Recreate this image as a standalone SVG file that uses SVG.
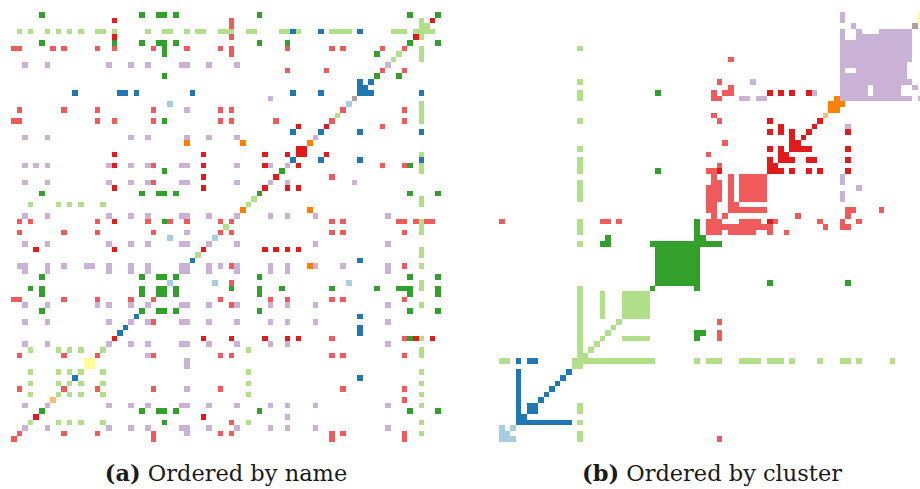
<svg xmlns="http://www.w3.org/2000/svg" xmlns:xlink="http://www.w3.org/1999/xlink" width="920" height="489" viewBox="0 0 920 489">
<style>
.lb{fill:#a6cee3}.b{fill:#1f78b4}.lg{fill:#b2df8a}.g{fill:#33a02c}.lr{fill:#ef5b5b}.r{fill:#e31a1c}
.lo{fill:#fdbf6f}.o{fill:#ff7f00}.lv{fill:#cab2d6}.y{fill:#ffff99}.br{fill:#b39e9a}
.m{shape-rendering:crispEdges}
.cap{font-family:"DejaVu Serif","Liberation Serif",serif;font-size:22.5px;fill:#1a1a1a}
</style>
<defs>
<!-- repeated row patterns of the name-ordered matrix (cell units) -->
<g id="rowGreen"><rect x="5" y="0" width="1" height="1"/><rect x="23" y="0" width="1" height="1"/><rect x="26" y="0" width="2" height="1"/><rect x="29" y="0" width="1" height="1"/><rect x="44" y="0" width="1" height="1"/><rect x="71" y="0" width="1" height="1"/><rect x="76" y="0" width="1" height="1"/></g>
<g id="rowLav"><rect x="2" y="0" width="1" height="1"/><rect x="6" y="0" width="1" height="1"/><rect x="17" y="0" width="1" height="1"/><rect x="21" y="0" width="1" height="1"/><rect x="24" y="0" width="1" height="1"/><rect x="30" y="0" width="2" height="1"/><rect x="35" y="0" width="1" height="1"/><rect x="40" y="0" width="1" height="1"/><rect x="46" y="0" width="1" height="1"/><rect x="49" y="0" width="1" height="1"/><rect x="54" y="0" width="1" height="1"/><rect x="67" y="0" width="1" height="1"/></g>
<g id="rowLg"><rect x="3" y="0" width="1" height="1"/><rect x="8" y="0" width="1" height="1"/><rect x="10" y="0" width="1" height="1"/><rect x="12" y="0" width="1" height="1"/><rect x="16" y="0" width="1" height="1"/><rect x="42" y="0" width="1" height="1"/><rect x="73" y="0" width="1" height="1"/></g>
<g id="rowLr"><rect x="1" y="0" width="1" height="1"/><rect x="9" y="0" width="1" height="1"/><rect x="15" y="0" width="1" height="1"/><rect x="25" y="0" width="1" height="1"/><rect x="37" y="0" width="1" height="1"/><rect x="39" y="0" width="1" height="1"/><rect x="57" y="0" width="1" height="1"/><rect x="59" y="0" width="1" height="1"/><rect x="70" y="0" width="1" height="1"/></g>
</defs>

<!-- (a) adjacency matrix, nodes in name order -->
<g id="matrix-by-name" class="m" transform="translate(11 12) scale(5.584)">
<g class="g">
<use xlink:href="#rowGreen" y="0"/><use xlink:href="#rowGreen" y="5"/><use xlink:href="#rowGreen" y="32"/><use xlink:href="#rowGreen" y="47"/><use xlink:href="#rowGreen" y="49"/><use xlink:href="#rowGreen" y="50"/><use xlink:href="#rowGreen" y="53"/><use xlink:href="#rowGreen" y="71"/>
<rect x="18" y="5" width="1" height="1"/><rect x="49" y="5" width="1" height="1"/>
<rect x="27" y="6" width="1" height="2"/><rect x="65" y="7" width="1" height="1"/>
<rect x="27" y="11" width="1" height="1"/><rect x="65" y="11" width="1" height="1"/><rect x="69" y="11" width="1" height="1"/>
<rect x="27" y="19" width="1" height="1"/><rect x="71" y="27" width="1" height="1"/>
<rect x="27" y="28" width="1" height="1"/><rect x="48" y="28" width="1" height="1"/>
<rect x="27" y="37" width="1" height="1"/>
<rect x="3" y="49" width="1" height="1"/><rect x="39" y="49" width="1" height="1"/><rect x="48" y="49" width="1" height="1"/><rect x="57" y="49" width="1" height="1"/><rect x="65" y="49" width="1" height="1"/><rect x="69" y="49" width="2" height="1"/>
<rect x="71" y="58" width="1" height="1"/><rect x="27" y="73" width="1" height="1"/>
</g>
<g class="lg">
<use xlink:href="#rowLg" y="34"/><use xlink:href="#rowLg" y="60"/><use xlink:href="#rowLg" y="64"/><use xlink:href="#rowLg" y="66"/><use xlink:href="#rowLg" y="68"/><use xlink:href="#rowLg" y="73"/>
<rect x="73" y="1" width="1" height="4"/><rect x="73" y="6" width="1" height="3"/><rect x="73" y="16" width="1" height="4"/><rect x="73" y="25" width="1" height="1"/><rect x="73" y="27" width="1" height="2"/><rect x="73" y="33" width="1" height="1"/><rect x="73" y="37" width="1" height="3"/><rect x="73" y="42" width="1" height="2"/><rect x="73" y="45" width="1" height="1"/><rect x="73" y="48" width="1" height="2"/><rect x="73" y="52" width="1" height="1"/><rect x="73" y="58" width="1" height="1"/><rect x="73" y="61" width="1" height="1"/><rect x="73" y="70" width="1" height="1"/><rect x="73" y="75" width="1" height="1"/>
<rect x="74" y="2" width="1" height="1"/>
<rect x="1" y="3" width="1" height="1"/><rect x="3" y="3" width="1" height="1"/><rect x="6" y="3" width="1" height="1"/><rect x="8" y="3" width="1" height="1"/><rect x="10" y="3" width="1" height="1"/><rect x="12" y="3" width="1" height="1"/><rect x="15" y="3" width="2" height="1"/><rect x="18" y="3" width="1" height="1"/><rect x="24" y="3" width="1" height="1"/><rect x="27" y="3" width="2" height="1"/><rect x="31" y="3" width="1" height="1"/><rect x="33" y="3" width="2" height="1"/><rect x="37" y="3" width="3" height="1"/><rect x="42" y="3" width="2" height="1"/><rect x="48" y="3" width="2" height="1"/><rect x="51" y="3" width="1" height="1"/><rect x="57" y="3" width="4" height="1"/><rect x="68" y="3" width="3" height="1"/><rect x="72" y="3" width="1" height="1"/><rect x="74" y="3" width="2" height="1"/>
<rect x="69" y="7" width="1" height="1"/><rect x="68" y="8" width="1" height="1"/><rect x="58" y="18" width="1" height="1"/><rect x="43" y="33" width="1" height="1"/><rect x="38" y="38" width="1" height="1"/><rect x="33" y="43" width="1" height="1"/>
</g>
<g class="b">
<rect x="50" y="3" width="1" height="1"/><rect x="55" y="3" width="1" height="1"/><rect x="62" y="3" width="1" height="1"/>
<rect x="62" y="12" width="1" height="3"/><rect x="64" y="12" width="1" height="1"/><rect x="63" y="13" width="1" height="2"/>
<rect x="11" y="14" width="1" height="1"/><rect x="19" y="14" width="2" height="1"/><rect x="22" y="14" width="1" height="1"/><rect x="32" y="14" width="1" height="1"/><rect x="50" y="14" width="1" height="1"/><rect x="55" y="14" width="1" height="1"/><rect x="64" y="14" width="1" height="1"/><rect x="73" y="14" width="1" height="1"/>
<rect x="50" y="21" width="1" height="1"/><rect x="55" y="21" width="1" height="1"/><rect x="62" y="21" width="1" height="1"/><rect x="73" y="21" width="1" height="1"/>
<rect x="50" y="26" width="1" height="1"/><rect x="55" y="26" width="1" height="1"/><rect x="62" y="26" width="1" height="1"/><rect x="73" y="26" width="1" height="1"/>
<rect x="32" y="44" width="1" height="1"/><rect x="62" y="44" width="1" height="1"/>
<rect x="22" y="54" width="1" height="1"/><rect x="62" y="54" width="1" height="1"/>
<rect x="20" y="56" width="1" height="1"/><rect x="19" y="57" width="1" height="1"/><rect x="62" y="56" width="1" height="2"/>
<rect x="11" y="65" width="1" height="1"/><rect x="62" y="65" width="1" height="1"/>
</g>
<g class="lv">
<use xlink:href="#rowLav" y="36"/><use xlink:href="#rowLav" y="45"/><use xlink:href="#rowLav" y="52"/><use xlink:href="#rowLav" y="55"/><use xlink:href="#rowLav" y="70"/><use xlink:href="#rowLav" y="74"/>
<rect x="2" y="9" width="1" height="1"/><rect x="6" y="9" width="1" height="1"/><rect x="17" y="9" width="1" height="1"/><rect x="21" y="9" width="1" height="1"/><rect x="24" y="9" width="1" height="1"/><rect x="30" y="9" width="2" height="1"/><rect x="35" y="9" width="1" height="1"/><rect x="40" y="9" width="1" height="1"/><rect x="67" y="9" width="1" height="1"/>
<rect x="46" y="15" width="1" height="1"/><rect x="31" y="17" width="1" height="1"/>
<rect x="2" y="22" width="1" height="1"/><rect x="6" y="22" width="1" height="1"/><rect x="21" y="22" width="1" height="1"/><rect x="24" y="22" width="1" height="1"/><rect x="31" y="22" width="1" height="1"/><rect x="35" y="22" width="1" height="1"/><rect x="40" y="22" width="1" height="1"/><rect x="54" y="22" width="1" height="1"/>
<rect x="2" y="27" width="1" height="1"/><rect x="4" y="27" width="1" height="1"/><rect x="6" y="27" width="1" height="1"/><rect x="17" y="27" width="1" height="1"/><rect x="21" y="27" width="1" height="1"/><rect x="24" y="27" width="1" height="1"/><rect x="30" y="27" width="2" height="1"/><rect x="40" y="27" width="1" height="1"/><rect x="46" y="27" width="1" height="1"/><rect x="49" y="27" width="1" height="1"/>
<rect x="2" y="30" width="1" height="1"/><rect x="6" y="30" width="1" height="1"/><rect x="17" y="30" width="1" height="1"/><rect x="21" y="30" width="1" height="1"/><rect x="24" y="30" width="1" height="1"/><rect x="30" y="30" width="2" height="1"/><rect x="40" y="30" width="1" height="1"/><rect x="46" y="30" width="1" height="1"/><rect x="49" y="30" width="1" height="1"/><rect x="61" y="30" width="1" height="1"/>
<rect x="31" y="39" width="1" height="1"/>
<rect x="2" y="41" width="1" height="1"/><rect x="6" y="41" width="1" height="1"/><rect x="17" y="41" width="1" height="1"/><rect x="21" y="41" width="1" height="1"/><rect x="24" y="41" width="1" height="1"/><rect x="30" y="41" width="2" height="1"/><rect x="35" y="41" width="1" height="1"/><rect x="40" y="41" width="1" height="1"/><rect x="54" y="41" width="1" height="1"/><rect x="67" y="41" width="1" height="1"/>
<rect x="1" y="45" width="1" height="1"/><rect x="9" y="45" width="1" height="1"/><rect x="13" y="45" width="2" height="1"/><rect x="37" y="45" width="1" height="1"/><rect x="59" y="45" width="1" height="1"/>
<rect x="2" y="46" width="1" height="1"/><rect x="6" y="46" width="1" height="1"/><rect x="17" y="46" width="1" height="1"/><rect x="21" y="46" width="1" height="1"/><rect x="24" y="46" width="1" height="1"/><rect x="30" y="46" width="2" height="1"/><rect x="35" y="46" width="1" height="1"/><rect x="40" y="46" width="1" height="1"/><rect x="46" y="46" width="1" height="1"/><rect x="49" y="46" width="1" height="1"/><rect x="67" y="46" width="1" height="1"/>
<rect x="15" y="52" width="1" height="1"/>
<rect x="2" y="59" width="1" height="1"/><rect x="6" y="59" width="1" height="1"/><rect x="17" y="59" width="1" height="1"/><rect x="21" y="59" width="1" height="1"/><rect x="24" y="59" width="1" height="1"/><rect x="30" y="59" width="2" height="1"/><rect x="35" y="59" width="1" height="1"/><rect x="40" y="59" width="1" height="1"/><rect x="46" y="59" width="1" height="1"/><rect x="49" y="59" width="1" height="1"/><rect x="67" y="59" width="1" height="1"/>
<rect x="24" y="61" width="1" height="1"/><rect x="31" y="62" width="1" height="2"/><rect x="31" y="67" width="1" height="1"/><rect x="49" y="72" width="1" height="1"/><rect x="31" y="75" width="1" height="1"/>
</g>
<g class="lr">
<use xlink:href="#rowLr" y="39"/><use xlink:href="#rowLr" y="61"/><use xlink:href="#rowLr" y="75"/>
<rect x="39" y="1" width="1" height="2"/><rect x="39" y="4" width="1" height="1"/><rect x="39" y="7" width="1" height="1"/><rect x="39" y="45" width="1" height="1"/><rect x="39" y="48" width="1" height="1"/><rect x="39" y="52" width="1" height="1"/><rect x="39" y="73" width="1" height="1"/>
<rect x="0" y="6" width="2" height="1"/><rect x="7" y="6" width="1" height="1"/><rect x="9" y="6" width="1" height="1"/><rect x="15" y="6" width="1" height="1"/><rect x="18" y="6" width="1" height="1"/><rect x="25" y="6" width="1" height="1"/><rect x="31" y="6" width="1" height="1"/><rect x="37" y="6" width="1" height="1"/><rect x="39" y="6" width="1" height="1"/><rect x="49" y="6" width="1" height="1"/><rect x="57" y="6" width="1" height="1"/><rect x="59" y="6" width="1" height="1"/><rect x="66" y="6" width="1" height="1"/><rect x="70" y="6" width="1" height="1"/>
<rect x="49" y="10" width="1" height="1"/><rect x="56" y="10" width="1" height="1"/><rect x="66" y="10" width="1" height="1"/><rect x="70" y="10" width="1" height="1"/>
<rect x="1" y="17" width="1" height="1"/><rect x="9" y="17" width="1" height="1"/><rect x="15" y="17" width="1" height="1"/><rect x="25" y="17" width="1" height="1"/><rect x="37" y="17" width="1" height="1"/><rect x="39" y="17" width="1" height="1"/><rect x="59" y="17" width="1" height="1"/><rect x="70" y="17" width="1" height="1"/>
<rect x="0" y="19" width="2" height="1"/><rect x="15" y="19" width="1" height="1"/><rect x="18" y="19" width="1" height="1"/><rect x="25" y="19" width="1" height="1"/><rect x="37" y="19" width="1" height="1"/><rect x="39" y="19" width="1" height="1"/><rect x="47" y="19" width="1" height="1"/><rect x="57" y="19" width="1" height="1"/><rect x="70" y="19" width="1" height="1"/>
<rect x="66" y="20" width="1" height="1"/>
<rect x="25" y="27" width="1" height="1"/><rect x="66" y="27" width="1" height="1"/><rect x="70" y="27" width="1" height="1"/>
<rect x="57" y="29" width="1" height="1"/><rect x="25" y="30" width="1" height="1"/>
<rect x="1" y="37" width="1" height="1"/><rect x="3" y="37" width="1" height="1"/><rect x="15" y="37" width="1" height="1"/><rect x="24" y="37" width="1" height="1"/><rect x="28" y="37" width="1" height="1"/><rect x="31" y="37" width="1" height="1"/><rect x="37" y="37" width="1" height="1"/><rect x="39" y="37" width="1" height="1"/><rect x="57" y="37" width="1" height="1"/><rect x="59" y="37" width="1" height="1"/><rect x="69" y="37" width="2" height="1"/><rect x="72" y="37" width="1" height="1"/><rect x="74" y="37" width="2" height="1"/>
<rect x="70" y="45" width="1" height="1"/>
<rect x="0" y="51" width="2" height="1"/><rect x="9" y="51" width="1" height="1"/><rect x="15" y="51" width="1" height="1"/><rect x="21" y="51" width="1" height="1"/><rect x="25" y="51" width="1" height="1"/><rect x="37" y="51" width="1" height="1"/><rect x="46" y="51" width="1" height="1"/><rect x="49" y="51" width="1" height="1"/><rect x="57" y="51" width="1" height="1"/><rect x="59" y="51" width="1" height="1"/><rect x="70" y="51" width="1" height="1"/>
<rect x="25" y="55" width="1" height="1"/>
<rect x="57" y="58" width="1" height="1"/><rect x="70" y="58" width="1" height="1"/>
<rect x="1" y="67" width="1" height="1"/><rect x="9" y="67" width="1" height="1"/><rect x="15" y="67" width="1" height="1"/><rect x="25" y="67" width="1" height="1"/><rect x="37" y="67" width="1" height="1"/><rect x="59" y="67" width="1" height="1"/><rect x="70" y="67" width="1" height="1"/>
<rect x="70" y="69" width="1" height="1"/>
<rect x="0" y="76" width="1" height="1"/><rect x="25" y="76" width="1" height="1"/><rect x="57" y="76" width="1" height="1"/><rect x="70" y="76" width="1" height="1"/>
</g>
<g class="r">
<rect x="18" y="1" width="1" height="1"/><rect x="75" y="1" width="1" height="1"/>
<rect x="18" y="4" width="1" height="1"/><rect x="72" y="4" width="1" height="1"/>
<rect x="51" y="20" width="1" height="1"/><rect x="56" y="20" width="1" height="1"/>
<rect x="51" y="24" width="2" height="2"/>
<rect x="18" y="25" width="1" height="1"/><rect x="34" y="25" width="1" height="1"/><rect x="45" y="25" width="1" height="1"/><rect x="49" y="25" width="1" height="1"/><rect x="56" y="25" width="1" height="1"/>
<rect x="18" y="27" width="1" height="1"/><rect x="34" y="27" width="1" height="1"/><rect x="45" y="27" width="1" height="1"/><rect x="51" y="27" width="1" height="1"/>
<rect x="34" y="29" width="1" height="1"/><rect x="47" y="29" width="1" height="1"/>
<rect x="18" y="31" width="1" height="1"/><rect x="34" y="31" width="1" height="1"/><rect x="45" y="31" width="1" height="1"/><rect x="49" y="31" width="1" height="1"/><rect x="51" y="31" width="1" height="1"/>
<rect x="18" y="37" width="1" height="1"/>
<rect x="4" y="42" width="1" height="1"/><rect x="18" y="42" width="1" height="1"/><rect x="34" y="42" width="1" height="1"/><rect x="45" y="42" width="1" height="1"/><rect x="47" y="42" width="1" height="1"/><rect x="49" y="42" width="1" height="1"/><rect x="51" y="42" width="1" height="1"/>
<rect x="18" y="58" width="1" height="1"/><rect x="34" y="58" width="1" height="1"/><rect x="39" y="58" width="1" height="1"/><rect x="45" y="58" width="1" height="1"/><rect x="49" y="58" width="1" height="1"/><rect x="51" y="58" width="1" height="1"/><rect x="72" y="58" width="1" height="1"/><rect x="75" y="58" width="1" height="1"/>
<rect x="4" y="72" width="1" height="1"/><rect x="34" y="72" width="1" height="1"/>
</g>
<g class="o">
<rect x="31" y="23" width="1" height="1"/><rect x="41" y="23" width="1" height="1"/><rect x="53" y="23" width="1" height="1"/>
<rect x="41" y="35" width="1" height="1"/><rect x="53" y="35" width="1" height="1"/><rect x="53" y="45" width="1" height="1"/>
</g>
<rect class="lo" x="7" y="69" width="1" height="1"/>
<g class="lb">
<rect x="28" y="16" width="1" height="1"/><rect x="60" y="16" width="1" height="1"/>
<rect x="28" y="40" width="1" height="1"/><rect x="36" y="40" width="1" height="1"/>
<rect x="28" y="48" width="1" height="1"/><rect x="36" y="48" width="1" height="1"/><rect x="60" y="48" width="1" height="1"/>
</g>
<rect class="y" x="13" y="62" width="2" height="2"/>
<rect class="br" x="61" y="15" width="1" height="1"/>
</g>

<!-- (b) adjacency matrix, nodes grouped by cluster -->
<g id="matrix-by-cluster" class="m" transform="translate(499 12) scale(5.584)">
<g class="lv">
<rect x="61" y="0" width="1" height="2"/><rect x="61" y="3" width="1" height="13"/><rect x="63" y="2" width="1" height="1"/>
<rect x="64" y="3" width="1" height="1"/><rect x="68" y="3" width="6" height="1"/>
<rect x="64" y="4" width="10" height="1"/>
<rect x="62" y="5" width="12" height="4"/>
<rect x="62" y="9" width="11" height="1"/><rect x="64" y="10" width="9" height="1"/><rect x="62" y="11" width="11" height="1"/>
<rect x="45" y="12" width="1" height="1"/><rect x="62" y="12" width="12" height="1"/>
<rect x="62" y="13" width="4" height="2"/><rect x="67" y="13" width="5" height="2"/><rect x="74" y="13" width="1" height="1"/><rect x="56" y="14" width="1" height="1"/>
<rect x="43" y="15" width="2" height="1"/><rect x="46" y="15" width="2" height="1"/><rect x="62" y="15" width="12" height="1"/><rect x="75" y="15" width="2" height="1"/>
<rect x="62" y="20" width="1" height="1"/>
<rect x="61" y="29" width="1" height="2"/><rect x="64" y="31" width="1" height="1"/><rect x="61" y="32" width="1" height="2"/>
</g>
<rect class="y" x="75" y="0" width="2" height="2"/>
<rect class="br" x="74" y="2" width="1" height="1"/>
<g class="o">
<rect x="60" y="15" width="1" height="1"/><rect x="59" y="16" width="3" height="1"/><rect x="59" y="17" width="2" height="1"/>
</g>
<rect class="lo" x="58" y="18" width="1" height="1"/>
<g class="r">
<rect x="48" y="14" width="1" height="1"/><rect x="50" y="14" width="1" height="1"/><rect x="52" y="14" width="1" height="1"/><rect x="55" y="14" width="1" height="1"/>
<rect x="48" y="19" width="1" height="1"/><rect x="57" y="19" width="1" height="1"/>
<rect x="50" y="20" width="1" height="1"/><rect x="56" y="20" width="1" height="1"/>
<rect x="48" y="21" width="1" height="1"/><rect x="50" y="21" width="1" height="1"/><rect x="52" y="21" width="1" height="1"/><rect x="55" y="21" width="1" height="1"/><rect x="62" y="21" width="1" height="1"/>
<rect x="52" y="22" width="1" height="1"/><rect x="54" y="22" width="1" height="1"/>
<rect x="52" y="23" width="2" height="1"/>
<rect x="48" y="24" width="1" height="1"/><rect x="50" y="24" width="1" height="1"/><rect x="52" y="24" width="4" height="1"/><rect x="62" y="24" width="1" height="1"/>
<rect x="50" y="25" width="2" height="1"/>
<rect x="48" y="26" width="1" height="1"/><rect x="50" y="26" width="3" height="1"/><rect x="55" y="26" width="2" height="1"/><rect x="62" y="26" width="1" height="1"/>
<rect x="48" y="27" width="2" height="1"/>
<rect x="39" y="28" width="1" height="1"/><rect x="48" y="28" width="3" height="1"/><rect x="52" y="28" width="1" height="1"/><rect x="55" y="28" width="1" height="1"/><rect x="57" y="28" width="1" height="1"/><rect x="62" y="28" width="1" height="1"/>
</g>
<g class="lr">
<rect x="41" y="8" width="1" height="1"/><rect x="39" y="12" width="1" height="1"/><rect x="41" y="13" width="1" height="1"/>
<rect x="38" y="14" width="1" height="1"/><rect x="40" y="14" width="2" height="1"/><rect x="38" y="15" width="2" height="1"/>
<rect x="38" y="18" width="1" height="1"/><rect x="39" y="19" width="1" height="1"/><rect x="40" y="23" width="1" height="1"/><rect x="37" y="25" width="1" height="1"/><rect x="39" y="27" width="1" height="1"/><rect x="37" y="28" width="2" height="1"/>
<rect x="38" y="29" width="1" height="5"/><rect x="39" y="30" width="1" height="4"/><rect x="37" y="31" width="1" height="3"/><rect x="41" y="29" width="1" height="5"/><rect x="43" y="29" width="5" height="5"/>
<rect x="37" y="34" width="2" height="2"/><rect x="41" y="34" width="2" height="1"/>
<rect x="41" y="35" width="7" height="1"/><rect x="62" y="35" width="2" height="1"/><rect x="68" y="35" width="1" height="1"/>
<rect x="38" y="36" width="1" height="1"/><rect x="40" y="36" width="1" height="1"/><rect x="53" y="36" width="1" height="1"/><rect x="62" y="36" width="1" height="1"/>
<rect x="0" y="37" width="1" height="1"/><rect x="18" y="37" width="2" height="1"/><rect x="21" y="37" width="1" height="1"/><rect x="37" y="37" width="3" height="1"/><rect x="43" y="37" width="4" height="1"/><rect x="49" y="37" width="1" height="1"/><rect x="57" y="37" width="1" height="1"/><rect x="61" y="37" width="1" height="1"/><rect x="64" y="37" width="1" height="1"/>
<rect x="37" y="38" width="12" height="1"/><rect x="58" y="38" width="1" height="1"/><rect x="61" y="38" width="2" height="1"/>
<rect x="37" y="39" width="3" height="1"/><rect x="41" y="39" width="5" height="1"/><rect x="48" y="39" width="1" height="1"/><rect x="51" y="39" width="1" height="1"/>
<rect x="39" y="55" width="1" height="1"/><rect x="39" y="57" width="1" height="2"/><rect x="39" y="76" width="1" height="1"/>
</g>
<rect class="r" x="48" y="37" width="1" height="1"/>
<g class="g">
<rect x="35" y="37" width="1" height="13"/>
<rect x="28" y="14" width="1" height="1"/><rect x="28" y="28" width="1" height="1"/>
<rect x="19" y="40" width="1" height="1"/><rect x="36" y="40" width="1" height="1"/>
<rect x="18" y="41" width="2" height="1"/><rect x="27" y="41" width="8" height="1"/><rect x="36" y="41" width="4" height="1"/>
<rect x="28" y="42" width="7" height="7"/>
<rect x="48" y="48" width="1" height="1"/><rect x="62" y="48" width="1" height="1"/>
<rect x="27" y="49" width="1" height="1"/>
<rect x="35" y="57" width="1" height="2"/><rect x="36" y="57" width="1" height="1"/>
</g>
<g class="lg">
<rect x="14" y="6" width="1" height="1"/><rect x="14" y="12" width="1" height="1"/><rect x="14" y="14" width="1" height="2"/><rect x="14" y="19" width="1" height="1"/><rect x="14" y="24" width="1" height="1"/><rect x="14" y="26" width="1" height="3"/><rect x="14" y="30" width="1" height="4"/><rect x="14" y="37" width="1" height="3"/><rect x="14" y="41" width="1" height="1"/><rect x="14" y="49" width="1" height="15"/><rect x="14" y="70" width="1" height="2"/><rect x="14" y="73" width="1" height="1"/><rect x="14" y="75" width="1" height="2"/>
<rect x="18" y="50" width="1" height="5"/><rect x="22" y="50" width="5" height="5"/>
<rect x="21" y="55" width="1" height="1"/><rect x="20" y="56" width="1" height="1"/><rect x="19" y="57" width="1" height="1"/>
<rect x="18" y="58" width="1" height="1"/><rect x="22" y="58" width="5" height="1"/>
<rect x="17" y="59" width="1" height="1"/><rect x="16" y="60" width="1" height="1"/><rect x="15" y="61" width="1" height="1"/>
<rect x="0" y="62" width="2" height="1"/><rect x="13" y="62" width="1" height="1"/><rect x="15" y="62" width="13" height="1"/><rect x="35" y="62" width="1" height="1"/><rect x="37" y="62" width="3" height="1"/><rect x="43" y="62" width="4" height="1"/><rect x="48" y="62" width="3" height="1"/><rect x="52" y="62" width="1" height="1"/><rect x="57" y="62" width="1" height="1"/><rect x="61" y="62" width="2" height="1"/><rect x="64" y="62" width="1" height="1"/><rect x="70" y="62" width="1" height="1"/>
<rect x="13" y="63" width="1" height="1"/>
</g>
<g class="b">
<rect x="3" y="62" width="1" height="1"/><rect x="5" y="62" width="2" height="1"/>
<rect x="3" y="64" width="1" height="10"/>
<rect x="12" y="64" width="1" height="1"/><rect x="11" y="65" width="1" height="1"/><rect x="10" y="66" width="1" height="1"/><rect x="9" y="67" width="1" height="1"/><rect x="8" y="68" width="1" height="1"/><rect x="7" y="69" width="1" height="1"/>
<rect x="5" y="70" width="2" height="2"/><rect x="4" y="72" width="1" height="1"/><rect x="4" y="73" width="9" height="1"/>
</g>
<g class="lb">
<rect x="0" y="74" width="1" height="3"/><rect x="2" y="74" width="1" height="1"/><rect x="1" y="75" width="1" height="2"/><rect x="2" y="76" width="1" height="1"/>
</g>
</g>

<text class="cap" x="226" y="481" text-anchor="middle"><tspan font-weight="bold">(a)</tspan> Ordered by name</text>
<text class="cap" x="712" y="481" text-anchor="middle"><tspan font-weight="bold">(b)</tspan> Ordered by cluster</text>
</svg>
